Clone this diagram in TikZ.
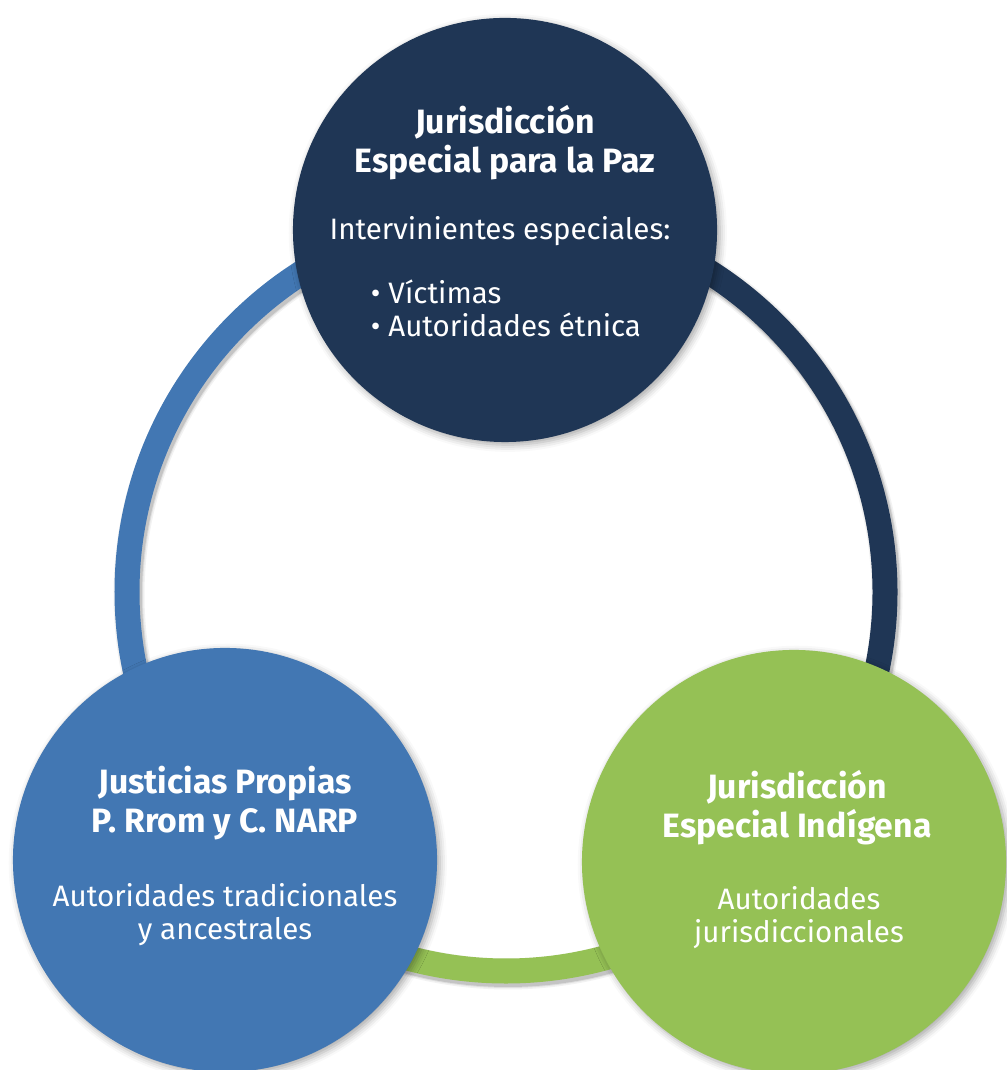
\documentclass[tikz,border=0pt]{standalone}
\usepackage{fontspec}
\setmainfont{Fira Sans}
\usepackage{tikz}
\usetikzlibrary{positioning,shadows.blur}

\definecolor{jepnavy}{HTML}{1F3655}
\definecolor{propblue}{HTML}{4277B3}
\definecolor{jeigreen}{HTML}{95C155}

\tikzset{
  bigcircle/.style={circle, inner sep=0pt, minimum size=10.6cm,
    blur shadow={shadow xshift=2pt, shadow yshift=-2pt, shadow blur radius=5pt, shadow opacity=35}},
  ringline/.style={line width=0.625cm},
  headtext/.style={text=white, align=center, anchor=base,
    font=\bfseries\fontsize{24}{28.4}\selectfont},
  bodytext/.style={text=white, align=center, anchor=base,
    font=\fontsize{21}{23.5}\selectfont}
}

\begin{document}
\begin{tikzpicture}[x=0.025cm, y=0.025cm]
            \useasboundingbox (0,0) rectangle (1006,1070);
            \coordinate (ringc) at (506,478);
            % shadow of the ring
            \foreach \w/\o in {31/0.05, 28/0.08, 26/0.12}
              \draw[line width=\w*0.025cm, black, opacity=\o] ([shift={(2,-3)}]ringc) circle[radius=379];
            % ring
            \draw[ringline, propblue] ([shift={(90:379)}]ringc) arc[start angle=90, end angle=224, radius=379];
            \draw[ringline, jeigreen] ([shift={(223:379)}]ringc) arc[start angle=223, end angle=318, radius=379];
            \draw[ringline, jepnavy] ([shift={(316:379)}]ringc) arc[start angle=316, end angle=451, radius=379];
            % circles
            \node[bigcircle, fill=jepnavy] (jep) at (505,840) {};
            \node[bigcircle, fill=propblue] (propias) at (225,210) {};
            \node[bigcircle, fill=jeigreen] (jei) at (794,208) {};
            % texts (base = last line)
            \node[headtext] (jephead) at (505,897) {Jurisdicción\\Especial para la Paz};
            \node[bodytext] (jepbody) at (500,830) {Intervinientes especiales:};
            \node[bodytext, align=left, anchor=base west] (jeplist) at (366,733) {• Víctimas\\• Autoridades étnica};
            \node[headtext] (prophead) at (225,237) {Justicias Propias\\P. Rrom y C. NARP};
            \node[bodytext] (propbody) at (225,130) {Autoridades tradicionales\\y ancestrales};
            \node[headtext] (jeihead) at (797,232) {Jurisdicción\\Especial Indígena};
            \node[bodytext] (jeibody) at (799,127) {Autoridades\\jurisdiccionales};
\end{tikzpicture}
\end{document}
